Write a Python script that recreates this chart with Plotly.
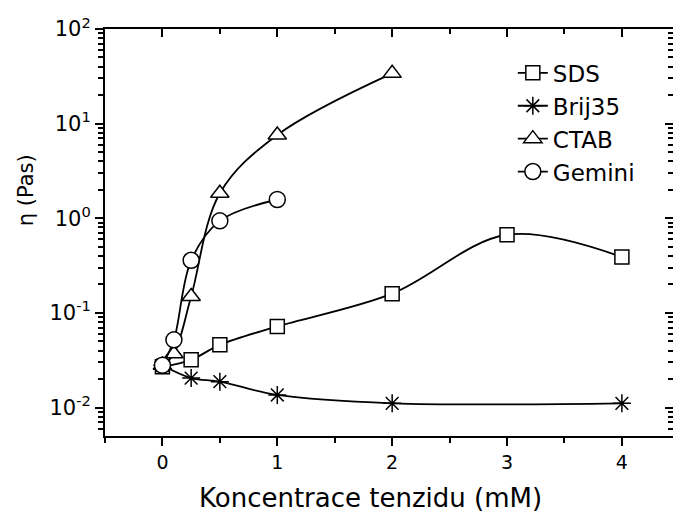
import plotly.graph_objects as go

# viscosity vs surfactant concentration
sds_x = [0, 0.25, 0.5, 1, 2, 3, 4]
sds_y = [0.027, 0.032, 0.046, 0.072, 0.16, 0.67, 0.39]

brij_x = [0, 0.25, 0.5, 1, 2, 4]
brij_y = [0.028, 0.0205, 0.0188, 0.0136, 0.0111, 0.0111]

ctab_x = [0, 0.1, 0.25, 0.5, 1, 2]
ctab_y = [0.028, 0.037, 0.149, 1.84, 7.6, 34]

gem_x = [0, 0.1, 0.25, 0.5, 1]
gem_y = [0.028, 0.052, 0.36, 0.94, 1.58]

y_ticks = [0.01, 0.1, 1, 10, 100]
y_labels = ["10<sup>-2</sup>", "10<sup>-1</sup>", "10<sup>0</sup>",
            "10<sup>1</sup>", "10<sup>2</sup>"]
x_ticks = [0, 1, 2, 3, 4]

FONT = "DejaVu Sans"

fig = go.Figure()

series = [
    ("SDS", sds_x, sds_y, "square", 14, "white"),
    ("Brij35", brij_x, brij_y, "asterisk-open", 15, "black"),
    ("CTAB", ctab_x, ctab_y, "triangle-up", 16, "white"),
    ("Gemini", gem_x, gem_y, "circle", 16, "white"),
]
for name, xs, ys, sym, sz, fill in series:
    fig.add_trace(go.Scatter(
        x=xs, y=ys, name=name, mode="lines+markers",
        line=dict(color="black", width=1.8, shape="spline", smoothing=1.0),
        marker=dict(symbol=sym, size=sz, color=fill,
                    line=dict(color="black", width=1.5)),
    ))

fig.update_layout(
    width=673, height=513,
    margin=dict(l=105, r=0, t=29, b=77),
    paper_bgcolor="white", plot_bgcolor="white",
    font=dict(family=FONT, color="black"),
    showlegend=True,
    legend=dict(x=0.718, y=0.945, xanchor="left", yanchor="top",
                font=dict(size=23, family=FONT), bgcolor="rgba(0,0,0,0)",
                tracegroupgap=3),
    xaxis=dict(range=[-0.5, 4.445], showline=True, linecolor="black", linewidth=2,
               tickmode="array", tickvals=x_ticks, ticks="outside", ticklen=8,
               tickwidth=2, tickcolor="black", showgrid=False, zeroline=False,
               tickfont=dict(size=19), automargin=False,
               minor=dict(ticks="outside", ticklen=5, tickwidth=1.5,
                          tickcolor="black", dtick=0.5, tick0=0, showgrid=False)),
    xaxis2=dict(range=[-0.5, 4.445], overlaying="x", side="top", showline=True,
                linecolor="black", linewidth=2, tickmode="array", tickvals=x_ticks,
                ticks="inside", ticklen=8, tickwidth=2, tickcolor="black",
                showticklabels=False, showgrid=False, zeroline=False,
                automargin=False,
                minor=dict(ticks="inside", ticklen=5, tickwidth=1.5,
                           tickcolor="black", dtick=0.5, tick0=0, showgrid=False)),
    yaxis=dict(type="log", range=[-2.3, 2], showline=True, linecolor="black",
               linewidth=2, tickmode="array", tickvals=y_ticks, ticktext=y_labels,
               ticks="outside", ticklen=8, tickwidth=2, tickcolor="black",
               showgrid=False, zeroline=False, tickfont=dict(size=21),
               automargin=False,
               minor=dict(ticks="outside", ticklen=5, tickwidth=1.5,
                          tickcolor="black", dtick="D1", showgrid=False)),
    yaxis2=dict(type="log", range=[-2.3, 2], overlaying="y", side="right",
                showline=False, tickmode="array", tickvals=y_ticks,
                ticks="inside", ticklen=8, tickwidth=2, tickcolor="black",
                showticklabels=False, showgrid=False, zeroline=False,
                automargin=False,
                minor=dict(ticks="inside", ticklen=5, tickwidth=1.5,
                           tickcolor="black", dtick="D1", showgrid=False)),
)

# dummy trace to activate the mirrored axes
fig.add_trace(go.Scatter(x=[None], y=[None], xaxis="x2", yaxis="y2",
                         showlegend=False, hoverinfo="skip"))

fig.add_annotation(text="Koncentrace tenzidu (mM)", xref="paper", yref="paper",
                   x=0.468, y=-0.152, xanchor="center", yanchor="middle",
                   showarrow=False, font=dict(size=26, family=FONT))
fig.add_annotation(text="η (Pas)", xref="paper", yref="paper",
                   x=-0.139, y=0.604, xanchor="center", yanchor="middle",
                   textangle=-90, showarrow=False, font=dict(size=21, family=FONT))

fig.write_html("out.html", config={"displayModeBar": False},
               post_script="document.body.style.margin='0px';"
                           "document.body.style.overflow='hidden';")
